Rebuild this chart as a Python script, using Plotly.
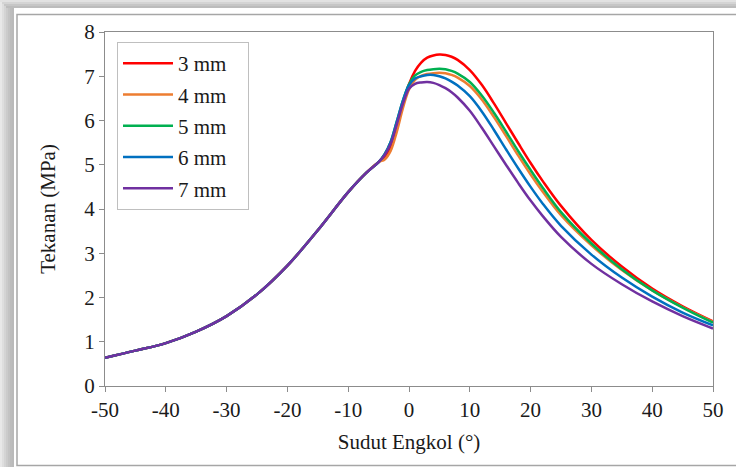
import plotly.graph_objects as go

# ---- data ----
x_common = [-50, -45, -40, -35, -30, -25, -20, -15, -10, -7, -5]
y_common = [0.64, 0.80, 0.97, 1.23, 1.58, 2.07, 2.72, 3.52, 4.38, 4.82, 5.06]

x_tail = [-4, -3, -2, -1, 0, 1, 2, 3, 4, 5, 6, 7, 8, 10, 12, 14, 16, 18, 20, 22, 25, 30, 35, 40, 45, 50]

y_3mm = [5.18, 5.42, 5.88, 6.38, 6.82, 7.12, 7.31, 7.42, 7.47, 7.49, 7.48, 7.44, 7.37, 7.14, 6.80, 6.38, 5.93, 5.48, 5.04, 4.63, 4.07, 3.30, 2.70, 2.20, 1.80, 1.46]
y_4mm = [5.12, 5.32, 5.75, 6.28, 6.70, 6.92, 7.01, 7.05, 7.07, 7.08, 7.07, 7.03, 6.97, 6.78, 6.47, 6.07, 5.64, 5.20, 4.78, 4.39, 3.86, 3.18, 2.62, 2.16, 1.78, 1.45]
y_5mm = [5.24, 5.52, 5.98, 6.45, 6.82, 7.02, 7.10, 7.14, 7.16, 7.17, 7.16, 7.12, 7.06, 6.87, 6.56, 6.17, 5.74, 5.30, 4.88, 4.48, 3.93, 3.22, 2.64, 2.16, 1.77, 1.43]
y_6mm = [5.24, 5.52, 5.98, 6.45, 6.80, 6.95, 7.00, 7.03, 7.03, 7.00, 6.95, 6.88, 6.79, 6.55, 6.20, 5.78, 5.34, 4.91, 4.50, 4.12, 3.62, 2.97, 2.45, 2.02, 1.66, 1.37]
y_7mm = [5.22, 5.48, 5.92, 6.38, 6.72, 6.83, 6.86, 6.87, 6.85, 6.80, 6.73, 6.64, 6.52, 6.22, 5.83, 5.41, 4.99, 4.58, 4.19, 3.84, 3.37, 2.76, 2.30, 1.91, 1.58, 1.30]

series_names = ["3 mm", "4 mm", "5 mm", "6 mm", "7 mm"]
series_vals = [y_3mm, y_4mm, y_5mm, y_6mm, y_7mm]
colors = ["#ff0000", "#ed7d31", "#00b050", "#0070c0", "#7030a0"]

x_ticks = [-50, -40, -30, -20, -10, 0, 10, 20, 30, 40, 50]
y_ticks = [0, 1, 2, 3, 4, 5, 6, 7, 8]

FONT = "Liberation Serif, Times New Roman, serif"
FS = 21

fig = go.Figure()
for name, ys, c in zip(series_names, series_vals, colors):
    fig.add_trace(go.Scatter(
        x=x_common + x_tail, y=y_common + ys, name=name + "\u00a0\u00a0\u00a0", mode="lines",
        line=dict(color=c, width=2.5, shape="spline", smoothing=1.0),
        legendgroup=name,
    ))

# plot area geometry in pixels
W, H = 736, 467
L, R, T, B = 105, 713, 32, 386
PW, PH = R - L, B - T

def px(xp):
    return (xp - L) / PW

def py(yp):
    return (B - yp) / PH

shapes = []
# shadow bands (left and top)
for i, col in enumerate(["#e8e8e8", "#dedede", "#d4d4d4", "#cbcbcb", "#c3c3c3", "#bdbdbd", "#bababa"]):
    shapes.append(dict(type="rect", xref="paper", yref="paper",
                       x0=px(i * 2), x1=px(i * 2 + 2), y0=py(W), y1=py(0),
                       line=dict(width=0), fillcolor=col, layer="below"))
for i, col in enumerate(["#e2e2e2", "#d4d4d4", "#c6c6c6", "#bcbcbc"]):
    shapes.append(dict(type="rect", xref="paper", yref="paper",
                       x0=px(i * 2), x1=px(W), y0=py(i * 2 + 2), y1=py(i * 2),
                       line=dict(width=0), fillcolor=col, layer="below"))
# outer chart border
shapes.append(dict(type="rect", xref="paper", yref="paper",
                   x0=px(17), x1=px(W + 5), y0=py(465.5), y1=py(14.5),
                   line=dict(color="#a6a6a6", width=1.5), fillcolor="white", layer="below"))

fig.update_layout(
    width=W, height=H,
    margin=dict(l=L, r=W - R, t=T, b=H - B),
    paper_bgcolor="white", plot_bgcolor="white",
    font=dict(family=FONT, size=FS, color="#1a1a1a"),
    shapes=shapes,
    showlegend=True,
    legend=dict(x=px(117), y=py(42), xanchor="left", yanchor="top",
                bordercolor="#bfbfbf", borderwidth=1, bgcolor="white",
                font=dict(family=FONT, size=FS, color="#1a1a1a"),
                tracegroupgap=1, itemwidth=50),
)
fig.update_xaxes(
    range=[-50, 50], tickvals=x_ticks, ticktext=[str(v) for v in x_ticks],
    showline=True, linecolor="#8c8c8c", linewidth=1, mirror=True,
    ticks="outside", ticklen=5, tickcolor="#8c8c8c",
    showgrid=False, zeroline=False,
    title=dict(text="Sudut Engkol (°)", font=dict(family=FONT, size=FS), standoff=13),
    tickfont=dict(family=FONT, size=FS),
)
fig.update_yaxes(
    range=[0, 8], tickvals=y_ticks,
    showline=True, linecolor="#8c8c8c", linewidth=1, mirror=True,
    ticks="outside", ticklen=5, tickcolor="#8c8c8c",
    showgrid=False, zeroline=False,
    title=dict(text="Tekanan (MPa)", font=dict(family=FONT, size=FS), standoff=22),
    tickfont=dict(family=FONT, size=FS),
)

fig.write_html("out.html", config={"displayModeBar": False},
               post_script="document.body.style.margin='0px';")
